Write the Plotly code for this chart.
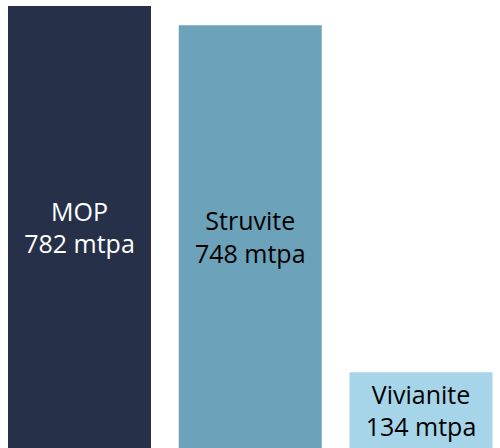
import plotly.graph_objects as go

categories = ["MOP", "Struvite", "Vivianite"]
values = [782, 748, 134]
unit = "mtpa"
colors = ["#263149", "#6CA2BA", "#A6D5EA"]
text_colors = ["#FFFFFF", "#000000", "#000000"]

labels = [f"{c}<br>{v} {unit}" for c, v in zip(categories, values)]

fig = go.Figure(
    go.Bar(
        x=categories,
        y=values,
        text=labels,
        textposition="inside",
        insidetextanchor="middle",
        textangle=0,
        textfont=dict(family="Open Sans", size=25, color=text_colors),
        marker=dict(color=colors, line=dict(width=0)),
        width=0.8375,
        hoverinfo="skip",
    )
)

fig.update_layout(
    width=500,
    height=448,
    margin=dict(l=0, r=0, t=0, b=0),
    paper_bgcolor="white",
    plot_bgcolor="white",
    showlegend=False,
    uniformtext=dict(minsize=25, mode="show"),
    xaxis=dict(visible=False, range=[-0.4656, 2.4627]),
    yaxis=dict(visible=False, range=[0, 792.6]),
)

fig.write_html("out.html")
